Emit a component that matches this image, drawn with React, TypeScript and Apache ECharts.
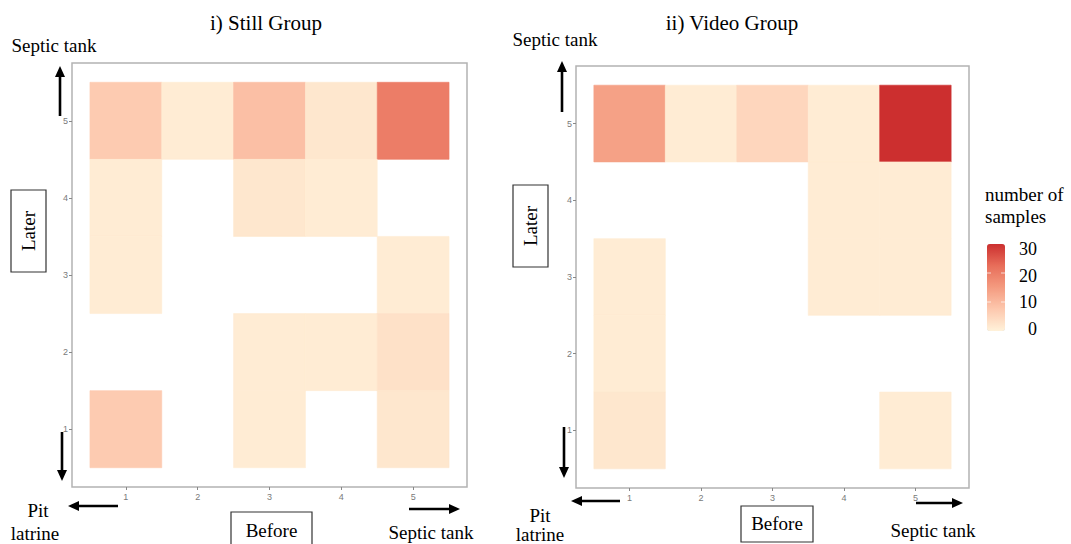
import React, { useEffect, useRef } from "react";
import * as echarts from "echarts";

const stillBefore = [1, 2, 3, 4, 5, 1, 3, 4, 1, 5, 3, 4, 5, 1, 3, 5];
const stillLater = [5, 5, 5, 5, 5, 4, 4, 4, 3, 3, 2, 2, 2, 1, 1, 1];
const stillCount = [7, 1, 9, 2, 20, 1, 2, 1, 1, 1, 1, 1, 3, 7, 1, 2];

const videoBefore = [1, 2, 3, 4, 5, 4, 5, 1, 4, 5, 1, 1, 5];
const videoLater = [5, 5, 5, 5, 5, 4, 4, 3, 3, 3, 2, 1, 1];
const videoCount = [14, 1, 5, 1, 30, 1, 1, 1, 1, 1, 1, 2, 1];

const tickValues = [1, 2, 3, 4, 5];
const legendTicks = [0, 10, 20, 30];
const colorMin = 0;
const colorMax = 30;

const SERIF = "'Liberation Serif', 'Times New Roman', serif";
const SANS = "'Liberation Sans', Arial, sans-serif";

function zip(b: number[], l: number[], c: number[]) {
  return b.map((v, i) => [v, l[i], c[i]]);
}

function renderCell(params: any, api: any) {
  const x = api.value(0);
  const y = api.value(1);
  const p0 = api.coord([x - 0.5, y + 0.5]);
  const p1 = api.coord([x + 0.5, y - 0.5]);
  const c = api.visual("color");
  return {
    type: "rect",
    shape: { x: p0[0], y: p0[1], width: p1[0] - p0[0], height: p1[1] - p0[1] },
    style: { fill: c, stroke: c, lineWidth: 0.6 },
  };
}

function arrow(x1: number, y1: number, x2: number, y2: number) {
  const dx = x2 - x1;
  const dy = y2 - y1;
  const len = Math.sqrt(dx * dx + dy * dy);
  const ux = dx / len;
  const uy = dy / len;
  const hl = 11;
  const hw = 5;
  const bx = x2 - ux * hl;
  const by = y2 - uy * hl;
  return [
    {
      type: "line",
      z: 100,
      shape: { x1, y1, x2: bx + ux * 1, y2: by + uy * 1 },
      style: { stroke: "#000", lineWidth: 2.6 },
    },
    {
      type: "polygon",
      z: 100,
      shape: {
        points: [
          [x2, y2],
          [bx - uy * hw, by + ux * hw],
          [bx + uy * hw, by - ux * hw],
        ],
      },
      style: { fill: "#000" },
    },
  ];
}

function txt(text: string, x: number, y: number, size: number, align = "center", rotation = 0) {
  return {
    type: "text",
    z: 100,
    x,
    y,
    rotation,
    style: {
      text,
      fill: "#000",
      font: `${size}px ${SERIF}`,
      textAlign: align,
      textVerticalAlign: "middle",
    },
  };
}

function box(x: number, y: number, w: number, h: number) {
  return {
    type: "rect",
    z: 99,
    shape: { x, y, width: w, height: h },
    style: { fill: "#fff", stroke: "#333", lineWidth: 1.2 },
  };
}

function axisPair(gridIndex: number) {
  const common = {
    type: "value",
    gridIndex,
    min: 0.25,
    max: 5.75,
    axisLine: { show: false },
    splitLine: { show: false },
    axisTick: {
      show: true,
      customValues: tickValues,
      length: 3,
      lineStyle: { color: "#888", width: 1 },
    },
    axisLabel: {
      customValues: tickValues,
      color: "#7a7a7a",
      fontSize: 9,
      fontFamily: SANS,
    },
  };
  return {
    x: { ...common, axisLabel: { ...common.axisLabel, margin: 5 } },
    y: { ...common, axisLabel: { ...common.axisLabel, margin: 4 } },
  };
}

export default function App() {
  const ref = useRef<HTMLDivElement>(null);
  useEffect(() => {
    if (!ref.current) return;
    const chart = echarts.init(ref.current, null, { renderer: "svg" });
    const a0 = axisPair(0);
    const a1 = axisPair(1);

    const barTop = 244;
    const barH = 87;
    const barLeft = 987;
    const barW = 18;

    const graphics: any[] = [
      txt("i) Still Group", 266, 23, 21),
      txt("ii) Video Group", 732, 23, 21),
      txt("Septic tank", 54, 45, 19),
      txt("Septic tank", 555, 39, 19),
      ...arrow(60, 116, 60, 66),
      ...arrow(62, 432, 62, 481),
      ...arrow(562, 112, 562, 61),
      ...arrow(564, 427, 564, 478),
      ...arrow(118, 506, 68, 506),
      ...arrow(409, 509, 460, 509),
      ...arrow(620, 501, 571, 501),
      ...arrow(916, 503, 963, 503),
      box(11, 190, 35, 82),
      txt("Later", 28.5, 231, 19, "center", Math.PI / 2),
      box(513, 185, 35, 82),
      txt("Later", 530.5, 226, 19, "center", Math.PI / 2),
      box(231, 512, 81, 40),
      txt("Before", 271.5, 530, 19),
      box(741, 506, 72, 36),
      txt("Before", 777, 523, 19),
      txt("Pit", 38, 510, 19),
      txt("latrine", 35, 533, 19),
      txt("Septic tank", 431, 532, 19),
      txt("Pit", 540, 515, 19),
      txt("latrine", 540, 534, 19),
      txt("Septic tank", 933, 530, 19),
      txt("number of", 985, 194, 19, "left"),
      txt("samples", 985, 216, 19, "left"),
    ];
    legendTicks.forEach((v) => {
      const y = 329 - (v - colorMin) * 2.67;
      graphics.push(txt(String(v), 1037, y, 18, "right"));
      if (v > colorMin && v < colorMax) {
        const ty = barTop + barH - ((v - colorMin) / (colorMax - colorMin)) * barH;
        graphics.push({
          type: "line",
          z: 100,
          shape: { x1: barLeft, y1: ty, x2: barLeft + 4, y2: ty },
          style: { stroke: "rgba(255,255,255,0.7)", lineWidth: 1 },
        });
        graphics.push({
          type: "line",
          z: 100,
          shape: { x1: barLeft + barW - 4, y1: ty, x2: barLeft + barW, y2: ty },
          style: { stroke: "rgba(255,255,255,0.7)", lineWidth: 1 },
        });
      }
    });

    chart.setOption({
      animation: false,
      backgroundColor: "#fff",
      grid: [
        {
          left: 72,
          top: 63,
          width: 395,
          height: 424,
          show: true,
          borderColor: "#b3b3b3",
          borderWidth: 1.5,
          backgroundColor: "transparent",
        },
        {
          left: 576,
          top: 66,
          width: 393,
          height: 422,
          show: true,
          borderColor: "#b3b3b3",
          borderWidth: 1.5,
          backgroundColor: "transparent",
        },
      ],
      xAxis: [a0.x, a1.x],
      yAxis: [a0.y, a1.y],
      visualMap: {
        type: "continuous",
        min: colorMin,
        max: colorMax,
        dimension: 2,
        seriesIndex: [0, 1],
        left: barLeft,
        top: barTop,
        itemWidth: barW,
        itemHeight: barH,
        padding: 0,
        calculable: false,
        text: ["", ""],
        showLabel: false,
        inRange: {
          color: ["#FFF2DA", "#FDC8AE", "#F49B80", "#E86E5A", "#CC2F2F"],
        },
      },
      series: [
        {
          type: "custom",
          xAxisIndex: 0,
          yAxisIndex: 0,
          renderItem: renderCell,
          encode: { x: 0, y: 1 },
          data: zip(stillBefore, stillLater, stillCount),
        },
        {
          type: "custom",
          xAxisIndex: 1,
          yAxisIndex: 1,
          renderItem: renderCell,
          encode: { x: 0, y: 1 },
          data: zip(videoBefore, videoLater, videoCount),
        },
      ],
      graphic: graphics,
    });
    return () => chart.dispose();
  }, []);
  return <div ref={ref} style={{ width: 1071, height: 544, position: "absolute", left: 0, top: 0 }} />;
}
